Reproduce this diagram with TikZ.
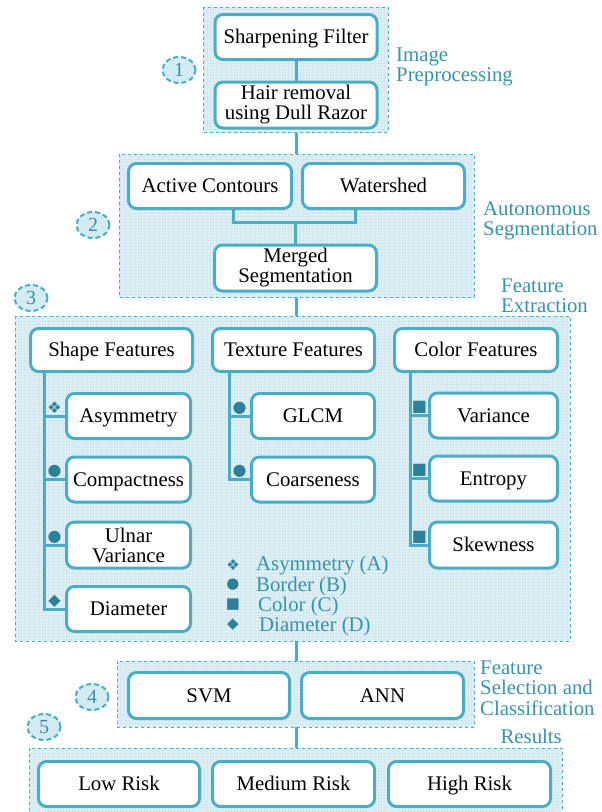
\documentclass[tikz,border=0pt]{standalone}
\usepackage{fontspec}
\setmainfont{Liberation Serif}
\newfontfamily\symfont{DejaVu Sans}
\usetikzlibrary{calc,shapes.geometric}
\definecolor{bc}{HTML}{4BACC6}
\definecolor{secfill}{HTML}{E2F1F6}
\definecolor{gridc}{HTML}{D2E8F0}
\definecolor{labc}{HTML}{3792AC}
\definecolor{bulc}{HTML}{2C8199}
\definecolor{numc}{HTML}{3F8EA4}
\definecolor{circfill}{HTML}{D3EBF3}
\tikzset{
  stepbox/.style={draw=bc, line width=3pt, rounded corners=8pt, fill=white,
    align=center, inner sep=0pt, font=\fontsize{20.8}{20}\selectfont, text=black},
  oneline/.style={text height=16pt, text depth=3pt},
  conn/.style={draw=bc, line width=3pt},
  numcirc/.style={ellipse, draw=bc, dash pattern=on 5pt off 3pt, line width=2pt, fill=circfill,
    minimum width=33pt, minimum height=26pt, inner sep=0pt, text=numc,
    font=\fontsize{20}{20}\selectfont},
  seclabel/.style={text=labc, align=left, inner sep=0pt,
    font=\fontsize{20.8}{20.5}\selectfont},
  bullet/.style={text=bulc, inner sep=0pt, font=\symfont\fontsize{16}{16}\selectfont},
  legsym/.style={text=bulc, inner sep=0pt, font=\symfont\fontsize{15}{15}\selectfont},
  legtext/.style={text=labc, inner sep=0pt, anchor=west, font=\fontsize{20.8}{20.5}\selectfont}
}
\begin{document}
\begin{tikzpicture}[x=1pt,y=-1pt]
\useasboundingbox (0,0) rectangle (602,812);
\clip (0,0) rectangle (602,812);

% ---------- section backgrounds ----------
\newcommand{\secbox}[4]{%
  \fill[secfill] (#1,#2) rectangle (#3,#4);
  \begin{scope}
    \clip (#1,#2) rectangle (#3,#4);
    \draw[gridc, line width=0.35pt, step=3pt] (#1,#2) grid (#3,#4);
  \end{scope}
  \draw[bc, dashed, line width=0.9pt] (#1,#2) rectangle (#3,#4);}

% connectors between sections
\coordinate (c1a) at (296,132);
\coordinate (c1b) at (296,154);
\coordinate (c2a) at (296,297);
\coordinate (c2b) at (296,316);
\coordinate (c3a) at (296,641);
\coordinate (c3b) at (296,661);
\coordinate (c4a) at (296,727);
\coordinate (c4b) at (296,748);
\draw[conn] (c1a) -- (c1b);
\draw[conn] (c2a) -- (c2b);
\draw[conn] (c3a) -- (c3b);
\draw[conn] (c4a) -- (c4b);

\secbox{203}{7}{388}{132}
\secbox{119}{154}{474}{297}
\secbox{15}{316}{570}{641}
\secbox{117}{661}{474}{727}
\secbox{29}{748}{562}{830}

% ---------- section 1 ----------
\node[stepbox, oneline, minimum width=162pt, minimum height=45pt] (sharp) at (296,37) {Sharpening Filter};
\node[stepbox, minimum width=162pt, minimum height=46pt] (hair) at (296,105) {Hair removal\\using Dull Razor};
\draw[conn] (sharp) -- (hair);
\node[numcirc] (n1) at (179,70) {1};
\node[seclabel, anchor=west] (l1) at (396,67) {Image\\Preprocessing};

% ---------- section 2 ----------
\node[stepbox, oneline, minimum width=163pt, minimum height=45pt] (ac) at (210,186) {Active Contours};
\node[stepbox, oneline, minimum width=162pt, minimum height=45pt] (ws) at (383.5,186) {Watershed};
\node[stepbox, minimum width=162pt, minimum height=46pt] (mg) at (295.5,268) {Merged\\Segmentation};
\coordinate (j2) at (295.5,222);
\draw[conn] ([xshift=23pt]ac.south) |- (j2) -| ([xshift=-28pt]ws.south);
\draw[conn] (j2) -- (mg.north);
\node[numcirc] (n2) at (93,225) {2};
\node[seclabel, anchor=west] (l2) at (483,221) {Autonomous\\Segmentation};

% ---------- section 3 ----------
\node[stepbox, oneline, minimum width=162pt, minimum height=43pt] (shape) at (111.5,350) {Shape Features};
\node[stepbox, oneline, minimum width=162pt, minimum height=43pt] (tex) at (293.5,350) {Texture Features};
\node[stepbox, oneline, minimum width=163pt, minimum height=43pt] (col) at (476,350) {Color Features};

\node[stepbox, oneline, minimum width=124pt, minimum height=45pt] (asym) at (128.5,416) {Asymmetry};
\node[stepbox, oneline, minimum width=124pt, minimum height=45pt] (comp) at (128.5,479.5) {Compactness};
\node[stepbox, minimum width=124pt, minimum height=46pt] (ulnar) at (128.5,545) {Ulnar\\Variance};
\node[stepbox, oneline, minimum width=124pt, minimum height=45pt] (diam) at (128.5,609) {Diameter};

\node[stepbox, oneline, minimum width=123pt, minimum height=45pt] (glcm) at (313,416) {GLCM};
\node[stepbox, oneline, minimum width=123pt, minimum height=45pt] (coarse) at (313,479.5) {Coarseness};

\node[stepbox, oneline, minimum width=128pt, minimum height=45pt] (var) at (493.5,415.5) {Variance};
\node[stepbox, oneline, minimum width=128pt, minimum height=45pt] (ent) at (493.5,478.5) {Entropy};
\node[stepbox, oneline, minimum width=128pt, minimum height=46pt] (skew) at (493.5,545) {Skewness};

% spines
\coordinate (sS) at ($(shape.south west)+(15,0)$);
\coordinate (sT) at ($(tex.south west)+(18,0)$);
\coordinate (sC) at ($(col.south west)+(17,0)$);
\draw[conn] (sS) |- (diam.west);
\draw[conn] (asym.west) -- (asym.west -| sS);
\draw[conn] (comp.west) -- (comp.west -| sS);
\draw[conn] (ulnar.west) -- (ulnar.west -| sS);
\draw[conn] (sT) |- (coarse.west);
\draw[conn] (glcm.west) -- (glcm.west -| sT);
\draw[conn] (sC) |- (skew.west);
\draw[conn] (var.west) -- (var.west -| sC);
\draw[conn] (ent.west) -- (ent.west -| sC);

% bullets
\node[bullet] (b1) at ($(asym.west)+(-10.5,-8)$) {❖};
\node[bullet] (b2) at ($(comp.west)+(-10.5,-8)$) {●};
\node[bullet] (b3) at ($(ulnar.west)+(-10.5,-8)$) {●};
\node[bullet] (b4) at ($(diam.west)+(-10.5,-8)$) {◆};
\node[bullet] (b5) at ($(glcm.west)+(-10.5,-8)$) {●};
\node[bullet] (b6) at ($(coarse.west)+(-10.5,-8)$) {●};
\node[bullet] (b7) at ($(var.west)+(-8.5,-8)$) {■};
\node[bullet] (b8) at ($(ent.west)+(-8.5,-8)$) {■};
\node[bullet] (b9) at ($(skew.west)+(-8.5,-8)$) {■};

% legend
\node[legsym] (ls1) at (233,565) {❖};
\node[legsym] (ls2) at (233,585) {●};
\node[legsym] (ls3) at (233,605) {■};
\node[legsym] (ls4) at (233,625) {◆};
\node[legtext] (lt1) at (256,566) {Asymmetry (A)};
\node[legtext] (lt2) at (256,586) {Border (B)};
\node[legtext] (lt3) at (258,606) {Color (C)};
\node[legtext] (lt4) at (259,626) {Diameter (D)};

\node[numcirc] (n3) at (31,298) {3};
\node[seclabel, anchor=west] (l3) at (501,296) {Feature\\Extraction};

% ---------- section 4 ----------
\node[stepbox, oneline, minimum width=161pt, minimum height=46pt] (svm) at (209,695.5) {SVM};
\node[stepbox, oneline, minimum width=162pt, minimum height=46pt] (ann) at (382.5,695.5) {ANN};
\node[numcirc] (n4) at (92,697) {4};
\node[seclabel, anchor=west] (l4) at (480,688) {Feature\\Selection and\\Classification};

% ---------- section 5 ----------
\node[numcirc] (n5) at (44,727) {5};
\node[seclabel, anchor=east] (l5) at (562,736) {Results};
\node[stepbox, oneline, minimum width=161pt, minimum height=45pt] (low) at (119,784) {Low Risk};
\node[stepbox, oneline, minimum width=162pt, minimum height=45pt] (med) at (293.5,784) {Medium Risk};
\node[stepbox, oneline, minimum width=162pt, minimum height=45pt] (high) at (469.5,784) {High Risk};
\end{tikzpicture}
\end{document}
